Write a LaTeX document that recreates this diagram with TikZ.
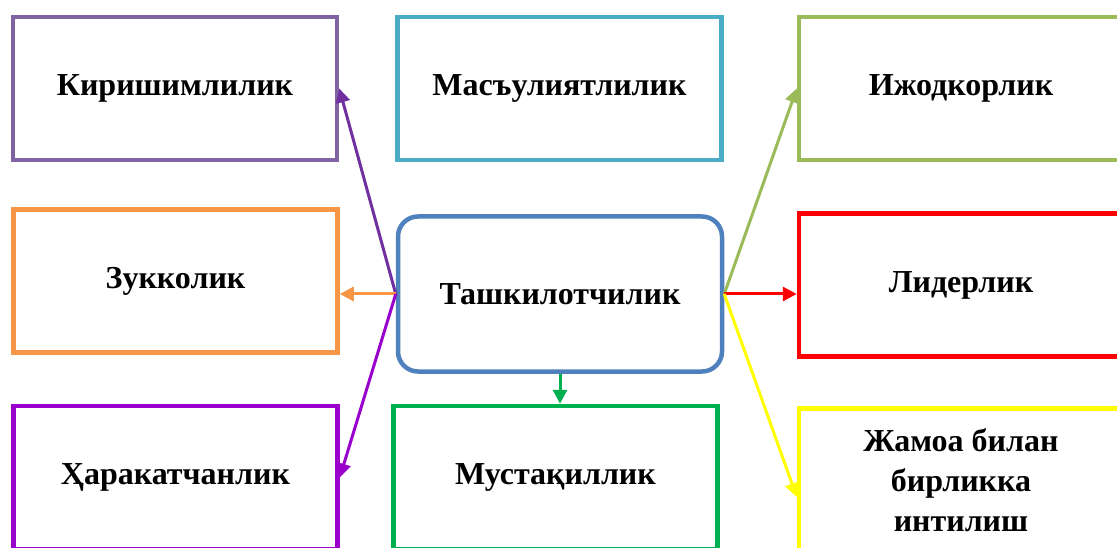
\documentclass[tikz,border=0pt]{standalone}
\usepackage{fontspec}
\setmainfont{Liberation Serif}
\usetikzlibrary{arrows.meta,calc}
\definecolor{cKir}{HTML}{8064A2}
\definecolor{cMas}{HTML}{4BACC6}
\definecolor{cIjo}{HTML}{9BBB59}
\definecolor{cZuk}{HTML}{F79646}
\definecolor{cCen}{HTML}{4F81BD}
\definecolor{cLid}{HTML}{FF0000}
\definecolor{cHar}{HTML}{9900CC}
\definecolor{cMus}{HTML}{00B050}
\definecolor{cJam}{HTML}{FFFF00}
\definecolor{aKir}{HTML}{7030A0}
\tikzset{
  box/.style={draw, line width=4.5pt, fill=white, minimum width=324pt, minimum height=143pt,
    inner sep=0pt, align=center, font=\fontsize{32}{40}\selectfont\bfseries},
  conn/.style={line width=3pt, -{Triangle[length=14pt,width=14pt]}},
}
\begin{document}
\begin{tikzpicture}[x=1pt,y=-1pt]
\useasboundingbox (0,0) rectangle (1117,548);
\clip (0,0) rectangle (1117,548);
\fill[white] (0,0) rectangle (1117,548);
\node[box, draw=cKir] (kir) at (175,88.5) {Киришимлилик};
\node[box, draw=cMas] (mas) at (559.5,88.5) {Масъулиятлилик};
\node[box, draw=cIjo] (ijo) at (961,88.5) {Ижодкорлик};
\node[box, draw=cZuk] (zuk) at (175.5,281) {Зукколик};
\node[box, draw=cCen, rounded corners=20pt, minimum height=155pt] (cen) at (560,294) {Ташкилотчилик};
\node[box, draw=cLid] (lid) at (961,285) {Лидерлик};
\node[box, draw=cHar] (har) at (175.5,477.5) {Ҳаракатчанлик};
\node[box, draw=cMus] (mus) at (555.5,477.5) {Мустақиллик};
\node[box, draw=cJam] (jam) at (961,480) {Жамоа билан\\бирликка\\интилиш};
\coordinate (jamin) at ($(jam.west)+(0,17)$);
\draw[conn, aKir] (cen.west) -- (kir.east);
\draw[conn, cZuk] (cen.west) -- (zuk.east |- cen.west);
\draw[conn, cHar] (cen.west) -- (har.east);
\draw[conn, cIjo] (cen.east) -- (ijo.west);
\draw[conn, cLid] (cen.east) -- (lid.west |- cen.east);
\draw[conn, cJam] (cen.east) -- (jamin);
\draw[conn, cMus] (cen.south) -- (cen.south |- mus.north);
\end{tikzpicture}
\end{document}
